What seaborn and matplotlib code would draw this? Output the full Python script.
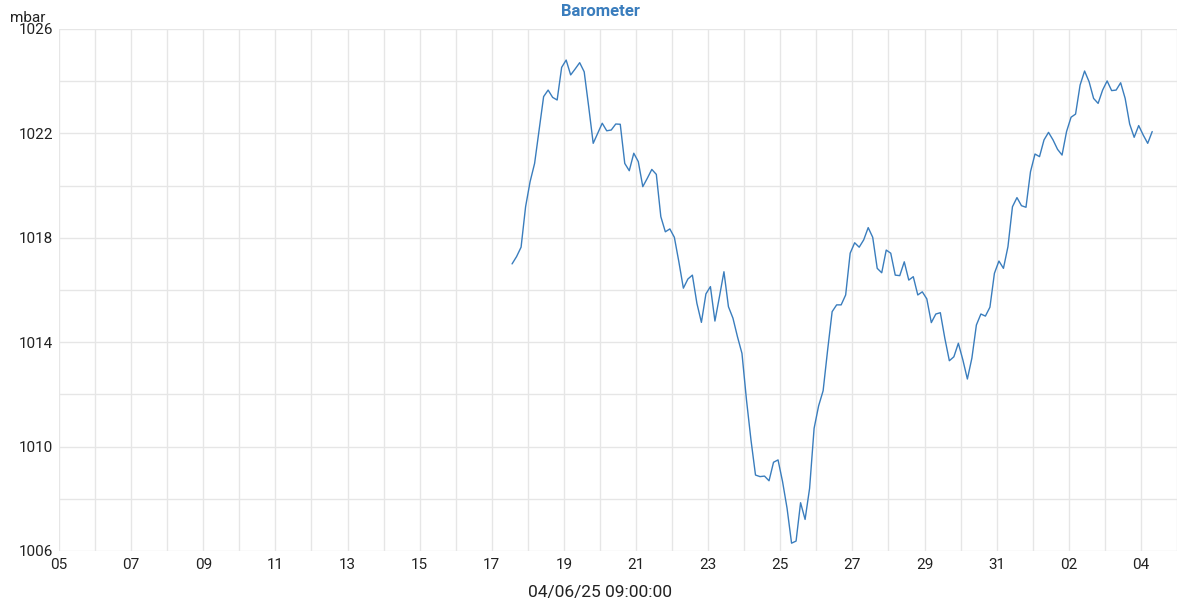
import matplotlib
matplotlib.use("Agg")
import matplotlib.pyplot as plt
import matplotlib.dates as mdates
import seaborn as sns
import pandas as pd
import numpy as np

# ---- data ----
series_start = "2025-03-17 13:30"
series_freq = "3h"
pressure_mbar = [
    1017.00, 1017.28, 1017.64, 1019.19, 1020.15, 1020.85, 1022.13, 1023.41, 1023.66, 1023.38,
    1023.28, 1024.53, 1024.81, 1024.24, 1024.47, 1024.71, 1024.36, 1023.02, 1021.62, 1022.00,
    1022.39, 1022.10, 1022.13, 1022.36, 1022.35, 1020.85, 1020.57, 1021.24, 1020.92, 1019.96,
    1020.28, 1020.62, 1020.43, 1018.81, 1018.23, 1018.34, 1018.02, 1017.08, 1016.07, 1016.42,
    1016.57, 1015.49, 1014.76, 1015.85, 1016.13, 1014.81, 1015.74, 1016.70, 1015.36, 1014.92,
    1014.21, 1013.57, 1011.79, 1010.25, 1008.91, 1008.85, 1008.87, 1008.69, 1009.40, 1009.49,
    1008.66, 1007.64, 1006.30, 1006.38, 1007.85, 1007.21, 1008.40, 1010.70, 1011.56, 1012.14,
    1013.70, 1015.17, 1015.43, 1015.43, 1015.81, 1017.41, 1017.81, 1017.64, 1017.92, 1018.39,
    1018.02, 1016.83, 1016.66, 1017.53, 1017.41, 1016.57, 1016.55, 1017.08, 1016.38, 1016.51,
    1015.81, 1015.93, 1015.66, 1014.75, 1015.08, 1015.13, 1014.15, 1013.29, 1013.44, 1013.96,
    1013.32, 1012.59, 1013.39, 1014.66, 1015.08, 1015.00, 1015.34, 1016.64, 1017.11, 1016.83,
    1017.66, 1019.19, 1019.54, 1019.23, 1019.17, 1020.53, 1021.21, 1021.11, 1021.75, 1022.04,
    1021.75, 1021.39, 1021.17, 1022.07, 1022.62, 1022.74, 1023.85, 1024.39, 1023.98, 1023.34,
    1023.15, 1023.66, 1024.01, 1023.64, 1023.66, 1023.94, 1023.34, 1022.36, 1021.85, 1022.30,
    1021.94, 1021.62, 1022.07,
]
x_start = "2025-03-05"
x_end = "2025-04-05"
y_ticks = [1006, 1010, 1014, 1018, 1022, 1026]
y_grid = [1006, 1008, 1010, 1012, 1014, 1016, 1018, 1020, 1022, 1024, 1026]
title = "Barometer"
y_unit = "mbar"
x_label = "04/06/25 09:00:00"

times = pd.date_range(series_start, periods=len(pressure_mbar), freq=series_freq)
df = pd.DataFrame({"time": times, "pressure": pressure_mbar})

sns.set_theme(style="white")
plt.rcParams["font.family"] = ["Roboto", "DejaVu Sans"]

fig = plt.figure(figsize=(12, 6), dpi=100)
ax = fig.add_axes([59 / 1200, 1 - 551 / 600, (1177 - 59) / 1200, (551 - 29) / 600])

line_color = "#3a7dbd"
sns.lineplot(data=df, x="time", y="pressure", ax=ax, color=line_color, linewidth=1.0)

ax.set_xlim(pd.Timestamp(x_start), pd.Timestamp(x_end))
ax.set_ylim(y_ticks[0], y_ticks[-1])

major_days = pd.date_range(x_start, "2025-04-04", freq="2D")
minor_days = pd.date_range(x_start, x_end, freq="1D")
ax.xaxis.set_major_locator(matplotlib.ticker.FixedLocator(mdates.date2num(major_days)))
ax.xaxis.set_minor_locator(matplotlib.ticker.FixedLocator(mdates.date2num(minor_days)))
ax.xaxis.set_major_formatter(mdates.DateFormatter("%d"))
ax.set_yticks(y_ticks)
ax.set_yticks(y_grid, minor=True)

grid_color = "#e6e6e6"
ax.grid(False)
ax.grid(True, which="minor", axis="both", color=grid_color, linewidth=1.0)
ax.grid(True, which="major", axis="both", color=grid_color, linewidth=1.0)
ax.set_axisbelow(True)
for s in ax.spines.values():
    s.set_visible(False)

ax.tick_params(axis="both", which="both", length=0)
ax.tick_params(axis="x", labelsize=11, pad=5, colors="#222222")
ax.tick_params(axis="y", labelsize=11, pad=4, colors="#222222")

ax.set_xlabel("")
ax.set_ylabel("")
fig.text(600 / 1200, 1 - 592 / 600, x_label, fontsize=12.5, color="#222222",
         ha="center", va="center")
fig.text(10 / 1200, 1 - 18 / 600, y_unit, fontsize=11, color="#222222", ha="left", va="center")
fig.text(600 / 1200, 1 - 12 / 600, title, fontsize=12, fontweight="bold", color=line_color,
         ha="center", va="center")

fig.savefig("out.png", dpi=100, facecolor="white")
